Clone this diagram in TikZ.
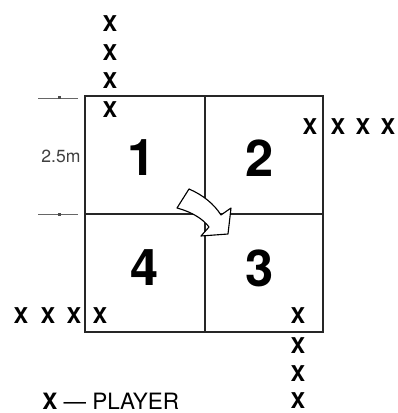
\documentclass[tikz,border=0pt]{standalone}
\usepackage{fontspec}
\setmainfont{TeX Gyre Heros}
\usetikzlibrary{positioning}

\begin{document}
\begin{tikzpicture}[
    x=0.025cm, y=-0.025cm,
    player/.style={inner sep=0pt, font=\fontsize{15.5}{15.5}\selectfont\bfseries},
    cellnum/.style={inner sep=0pt, font=\fontsize{36}{36}\selectfont\bfseries},
    grid/.style={draw=black!85, line width=1.1pt},
    dimline/.style={draw=black!60, line width=0.6pt}
]
\useasboundingbox (0,0) rectangle (397,413);

% the square and its four cells
\draw[grid] (85,96) rectangle (323,332);
\draw[grid] (205,96) -- (205,332);
\draw[grid] (85,214) -- (323,214);

\node[cellnum] (one) at (142,158) {1};
\node[cellnum] (two) at (260,158) {2};
\node[cellnum] (four) at (145,268) {4};
\node[cellnum] (three) at (260,268) {3};

% rotation arrow
\draw[fill=white, draw=black, line width=0.8pt, line join=round]
    (177,208) -- (189,189) .. controls (203,195) and (214,204) .. (221,215)
    -- (231,208) -- (228,234) -- (201,236) -- (209,227)
    .. controls (203,219) and (192,212) .. cycle;

% side length
\draw[dimline] (38,98) -- (78,98);
\draw[dimline] (38,214) -- (78,214);
\fill[black!70] (57.5,96.5) rectangle (60.5,99.5);
\fill[black!70] (57.5,212.5) rectangle (60.5,215.5);
\node[inner sep=0pt, text=black!75, font=\fontsize{12.5}{12.5}\selectfont] (side) at (61,156) {2.5m};

% players
\node[player] (top1) at (110,24) {X};
\node[player] (top2) at (110,53) {X};
\node[player] (top3) at (110,81) {X};
\node[player] (top4) at (110,110) {X};

\node[player] (right1) at (310,127) {X};
\node[player] (right2) at (338,127) {X};
\node[player] (right3) at (363,127) {X};
\node[player] (right4) at (388,127) {X};

\node[player] (left1) at (21,316) {X};
\node[player] (left2) at (48,316) {X};
\node[player] (left3) at (74,316) {X};
\node[player] (left4) at (100,316) {X};

\node[player] (bottom1) at (298,316) {X};
\node[player] (bottom2) at (298,346) {X};
\node[player] (bottom3) at (298,374) {X};
\node[player] (bottom4) at (298,401) {X};

% key
\node[inner sep=0pt, anchor=west, font=\fontsize{16}{16}\selectfont] (key) at (42,401) {{\bfseries X} — PLAYER};
\end{tikzpicture}
\end{document}
